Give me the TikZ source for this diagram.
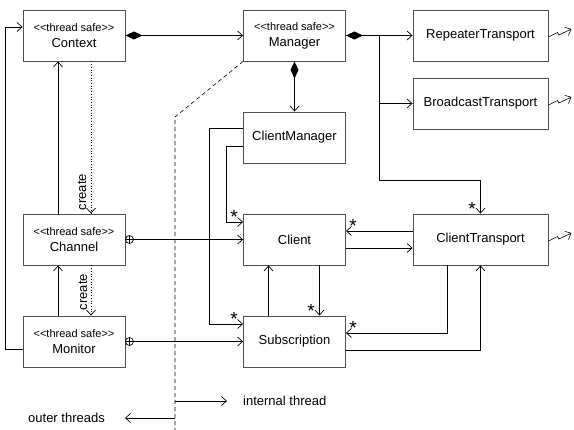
\documentclass[tikz,border=0pt]{standalone}
\usepackage{fontspec}
\setmainfont{Liberation Sans}
\usetikzlibrary{arrows.meta,calc}
\definecolor{boxgray}{HTML}{505050}

\begin{document}
\begin{tikzpicture}[x=1pt,y=-1pt,
  box/.style={draw=boxgray,line width=0.9pt,rectangle,inner sep=0pt,
    minimum height=51pt,align=center,font=\fontsize{13}{15}\selectfont},
  cls/.style={box,minimum width=102pt},
  tcls/.style={box,minimum width=135pt},
  conn/.style={line width=0.7pt,black},
  arr/.style={conn,-{Straight Barb[length=5pt,width=9pt]}},
  comp/.style={arr,{Diamond[length=17pt,width=8pt,fill=black]}-{Straight Barb[length=5pt,width=9pt]}},
  dep/.style={arr,dotted},
  mult/.style={font=\fontsize{19}{21}\selectfont,inner sep=0pt,anchor=north},
  lbl/.style={font=\fontsize{13}{15}\selectfont,inner sep=0pt},
]
\useasboundingbox (0,0) rectangle (574,430);

% classes
\node[cls] (ctx) at (74,35.5) {{\fontsize{11}{12}\selectfont <{}<thread safe>{}>}\\[1pt]Context};
\node[cls] (mgr) at (294.5,35.5) {{\fontsize{11}{12}\selectfont <{}<thread safe>{}>}\\[1pt]Manager};
\node[tcls] (rep) at (480.5,35.5) {RepeaterTransport};
\node[tcls] (bc) at (480.5,103.5) {BroadcastTransport};
\node[cls] (cm) at (294.5,137.5) {ClientManager};
\node[cls] (ch) at (74,239.5) {{\fontsize{11}{12}\selectfont <{}<thread safe>{}>}\\[1pt]Channel};
\node[cls] (cl) at (294.5,239.5) {Client};
\node[tcls] (ct) at (480.5,239.5) {ClientTransport};
\node[cls] (mon) at (74,341.5) {{\fontsize{11}{12}\selectfont <{}<thread safe>{}>}\\[1pt]Monitor};
\node[cls] (sub) at (294.5,341.5) {Subscription};

% compositions owned by Context and Manager
\draw[comp] (ctx.east) -- (mgr.west);
\draw[comp] (mgr.east) -- (rep.west);
\draw[comp] (mgr.south) -- (cm.north);
\coordinate (split) at (379,35.5);
\coordinate (bend) at (379,180);
\draw[arr] (split) |- (bc.west);
\draw[arr] (split) -- (bend) -| (ct.north);
\node[mult] at (472,202) {*};

% thread boundary
\coordinate (kink) at (175,117);
\coordinate (bottom) at (175,430);
\draw[conn,dashed,dash pattern=on 4pt off 3pt,line width=0.6pt] (mgr.south west) -- (kink) -- (bottom);

% left column
\draw[arr] ([yshift=-7.5pt]mon.west) -- ++(-17,0) |- ([yshift=8.5pt]ctx.west);
\draw[arr] ([xshift=-16pt]ch.north) -- ([xshift=-16pt]ctx.south);
\draw[arr] ([xshift=-16pt]mon.north) -- ([xshift=-16pt]ch.south);
\draw[dep] ([xshift=17pt]ctx.south) -- ([xshift=17pt]ch.north);
\draw[dep] ([xshift=17pt]ch.south) -- ([xshift=17pt]mon.north);
\node[lbl,rotate=90] at (82,192) {create};
\node[lbl,rotate=90] at (83,292) {create};

% nested associations
\draw[conn] ([xshift=4pt]ch.east) circle (4pt);
\draw[conn] ([xshift=4pt,yshift=4pt]ch.east) -- ([xshift=4pt,yshift=-4pt]ch.east);
\draw[arr] (ch.east) -- (cl.west);
\draw[conn] ([xshift=4pt]mon.east) circle (4pt);
\draw[conn] ([xshift=4pt,yshift=4pt]mon.east) -- ([xshift=4pt,yshift=-4pt]mon.east);
\draw[arr] (mon.east) -- (sub.west);

% ClientManager
\draw[arr] ([yshift=9.5pt]cm.west) -| (209,324) -- ([yshift=17.5pt]sub.west);
\draw[arr] ([yshift=-8.5pt]cm.west) -| (226,222) -- ([yshift=17.5pt]cl.west);
\node[mult] at (234,210) {*};
\node[mult] at (234,312) {*};

% Client / Subscription
\draw[arr] ([xshift=-26pt]sub.north) -- ([xshift=-26pt]cl.south);
\draw[arr] ([xshift=25pt]cl.south) -- ([xshift=25pt]sub.north);
\node[mult] at (311,304) {*};

% ClientTransport
\draw[arr] ([yshift=8.5pt]ct.west) -- ([yshift=8.5pt]cl.east);
\draw[arr] ([yshift=-8.5pt]cl.east) -- ([yshift=-8.5pt]ct.west);
\node[mult] at (353,219) {*};
\draw[arr] ([xshift=-33.5pt]ct.south) |- ([yshift=8.5pt]sub.east);
\node[mult] at (353,321) {*};
\draw[arr] ([yshift=-8.5pt]sub.east) -| (ct.south);

% remote links
\foreach \n in {rep,bc,ct}
  \draw[arr,line width=0.6pt] ([yshift=-1.5pt]\n.east) -- ++(9,-4.5) -- ++(1.5,2.5) -- ++(12.5,-6);

% legend
\coordinate (inA) at (175,401);
\coordinate (inB) at (227,401);
\coordinate (outA) at (175,418);
\coordinate (outB) at (125,418);
\draw[arr] (inA) -- (inB);
\draw[arr] (outA) -- (outB);
\node[lbl,anchor=west] (intxt) at (243,401) {internal thread};
\node[lbl,anchor=east] (outtxt) at (105,418) {outer threads};
\end{tikzpicture}
\end{document}
